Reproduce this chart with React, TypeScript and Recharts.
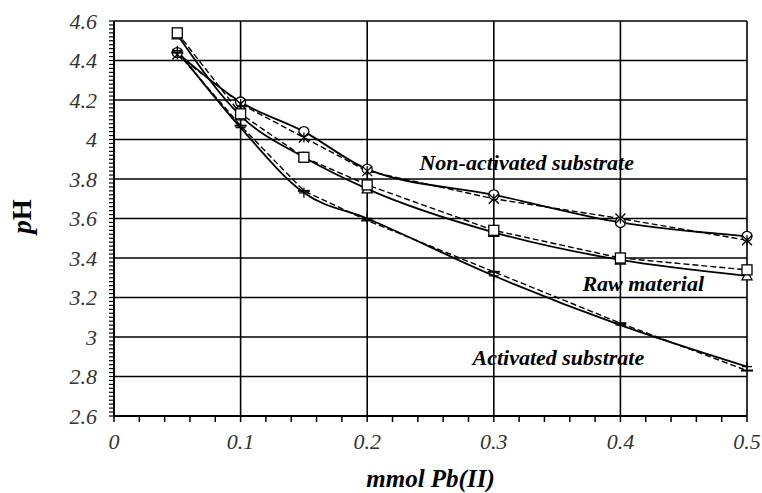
import React from "react"
import { ComposedChart, Line, XAxis, YAxis, CartesianGrid, ReferenceDot } from "recharts"

const FONT = "Liberation Serif, Times New Roman, serif"

// mmol Pb(II) added
const doses = [0.05, 0.1, 0.15, 0.2, 0.3, 0.4, 0.5]

// pH readings, two runs per material
const nonActivatedA = [4.44, 4.19, 4.04, 3.85, 3.72, 3.58, 3.51]
const nonActivatedB = [4.43, 4.18, 4.01, 3.84, 3.7, 3.6, 3.49]
const rawMaterialA = [4.53, 4.12, 3.91, 3.75, 3.53, 3.39, 3.31]
const rawMaterialB = [4.54, 4.13, 3.91, 3.77, 3.54, 3.4, 3.34]
const activatedA = [4.45, 4.06, 3.73, 3.6, 3.31, 3.06, 2.85]
const activatedB = [4.44, 4.07, 3.74, 3.59, 3.33, 3.07, 2.83]

const xMajor = [0, 0.1, 0.2, 0.3, 0.4, 0.5]
const yMajor = [2.6, 2.8, 3, 3.2, 3.4, 3.6, 3.8, 4, 4.2, 4.4, 4.6]

const xTicks = Array.from({ length: 26 }, (_, i) => +(i * 0.02).toFixed(2))
const yTicks = Array.from({ length: 101 }, (_, i) => +(2.6 + i * 0.02).toFixed(2))

const labels = [
  { text: "Non-activated substrate", x: 0.326, y: 3.886 },
  { text: "Raw material", x: 0.418, y: 3.27 },
  { text: "Activated substrate", x: 0.351, y: 2.9 },
]

const data = doses.map((d, i) => ({
  dose: d,
  nonA: nonActivatedA[i],
  nonB: nonActivatedB[i],
  rawA: rawMaterialA[i],
  rawB: rawMaterialB[i],
  actA: activatedA[i],
  actB: activatedB[i],
}))

const isMajor = (v: number, list: number[]) => list.some((m) => Math.abs(m - v) < 1e-6)

function makeDot(kind: string) {
  return (props: any) => {
    const { cx, cy, index } = props
    if (cx == null || cy == null) return <g key={index} />
    const s = 5
    const st = { stroke: "#000", strokeWidth: 1.3, fill: "none" }
    switch (kind) {
      case "circle":
        return <circle key={index} cx={cx} cy={cy} r={s} {...st} fill="#fff" />
      case "square":
        return <rect key={index} x={cx - s} y={cy - s} width={s * 2} height={s * 2} {...st} fill="#fff" />
      case "triangle":
        return <path key={index} d={`M${cx},${cy - s} L${cx + s},${cy + s - 1} L${cx - s},${cy + s - 1} Z`} {...st} fill="#fff" />
      case "star":
        return (
          <path
            key={index}
            d={`M${cx - s},${cy - s} L${cx + s},${cy + s} M${cx - s},${cy + s} L${cx + s},${cy - s} M${cx},${cy - s} L${cx},${cy + s}`}
            {...st}
          />
        )
      case "plus":
        return <path key={index} d={`M${cx - s},${cy} L${cx + s},${cy} M${cx},${cy - s} L${cx},${cy + s}`} {...st} />
      default:
        return <path key={index} d={`M${cx - s - 1},${cy} L${cx + s + 1},${cy}`} {...st} strokeWidth={2} />
    }
  }
}

const PhLabel = (props: any) => {
  const { viewBox } = props
  const cx = 22
  const cy = viewBox.y + viewBox.height / 2 - 2
  return (
    <text x={cx} y={cy} transform={`rotate(-90 ${cx} ${cy})`} textAnchor="middle" dominantBaseline="central"
      fontFamily={FONT} fontSize={27} fontWeight="bold" fill="#000">
      <tspan fontStyle="italic">p</tspan>H
    </text>
  )
}

export default function App() {
  return (
    <div style={{ position: "absolute", left: 0, top: 0, background: "#fff" }}>
      <ComposedChart width={762} height={493} data={data} margin={{ top: 21, right: 15, bottom: 0, left: 0 }}>
        <CartesianGrid
          stroke="#000"
          strokeWidth={1.6}
          horizontalValues={yMajor}
          verticalValues={xMajor}
        />
        <XAxis
          dataKey="dose"
          type="number"
          domain={[0, 0.5]}
          ticks={xTicks}
          interval={0}
          height={77}
          axisLine={{ stroke: "#000", strokeWidth: 2 }}
          tickLine={{ stroke: "#000", strokeWidth: 1.5 }}
          tickSize={6}
          tickMargin={11}
          tickFormatter={(v: number) => (isMajor(v, xMajor) ? String(v) : "")}
          tick={{ fontFamily: FONT, fontStyle: "italic", fontSize: 22, fill: "#333" }}
          label={{
            value: "mmol Pb(II)",
            position: "insideBottom",
            offset: 6,
            style: { fontFamily: FONT, fontStyle: "italic", fontWeight: "bold", fontSize: 25, fill: "#000" },
          }}
        />
        <YAxis
          type="number"
          domain={[2.6, 4.6]}
          ticks={yTicks}
          interval={0}
          width={114}
          axisLine={{ stroke: "#000", strokeWidth: 2 }}
          tickLine={{ stroke: "#000", strokeWidth: 1.2 }}
          tickSize={5}
          tickMargin={12}
          tickFormatter={(v: number) => (isMajor(v, yMajor) ? String(v) : "")}
          tick={{ fontFamily: FONT, fontStyle: "italic", fontSize: 22, fill: "#333" }}
          label={<PhLabel />}
        />
        <Line dataKey="nonA" type="monotone" stroke="#000" strokeWidth={1.8} dot={makeDot("circle")} isAnimationActive={false} />
        <Line dataKey="nonB" type="linear" stroke="#000" strokeWidth={1.4} strokeDasharray="6 3" dot={makeDot("star")} isAnimationActive={false} />
        <Line dataKey="rawA" type="monotone" stroke="#000" strokeWidth={1.8} dot={makeDot("triangle")} isAnimationActive={false} />
        <Line dataKey="rawB" type="linear" stroke="#000" strokeWidth={1.4} strokeDasharray="6 3" dot={makeDot("square")} isAnimationActive={false} />
        <Line dataKey="actA" type="monotone" stroke="#000" strokeWidth={1.8} dot={makeDot("plus")} isAnimationActive={false} />
        <Line dataKey="actB" type="linear" stroke="#000" strokeWidth={1.4} strokeDasharray="6 3" dot={makeDot("dash")} isAnimationActive={false} />
        {labels.map((l) => (
          <ReferenceDot
            key={l.text}
            x={l.x}
            y={l.y}
            r={0}
            stroke="none"
            label={{
              value: l.text,
              position: "center",
              style: { fontFamily: FONT, fontStyle: "italic", fontWeight: "bold", fontSize: 22, fill: "#000" },
            }}
          />
        ))}
      </ComposedChart>
    </div>
  )
}
